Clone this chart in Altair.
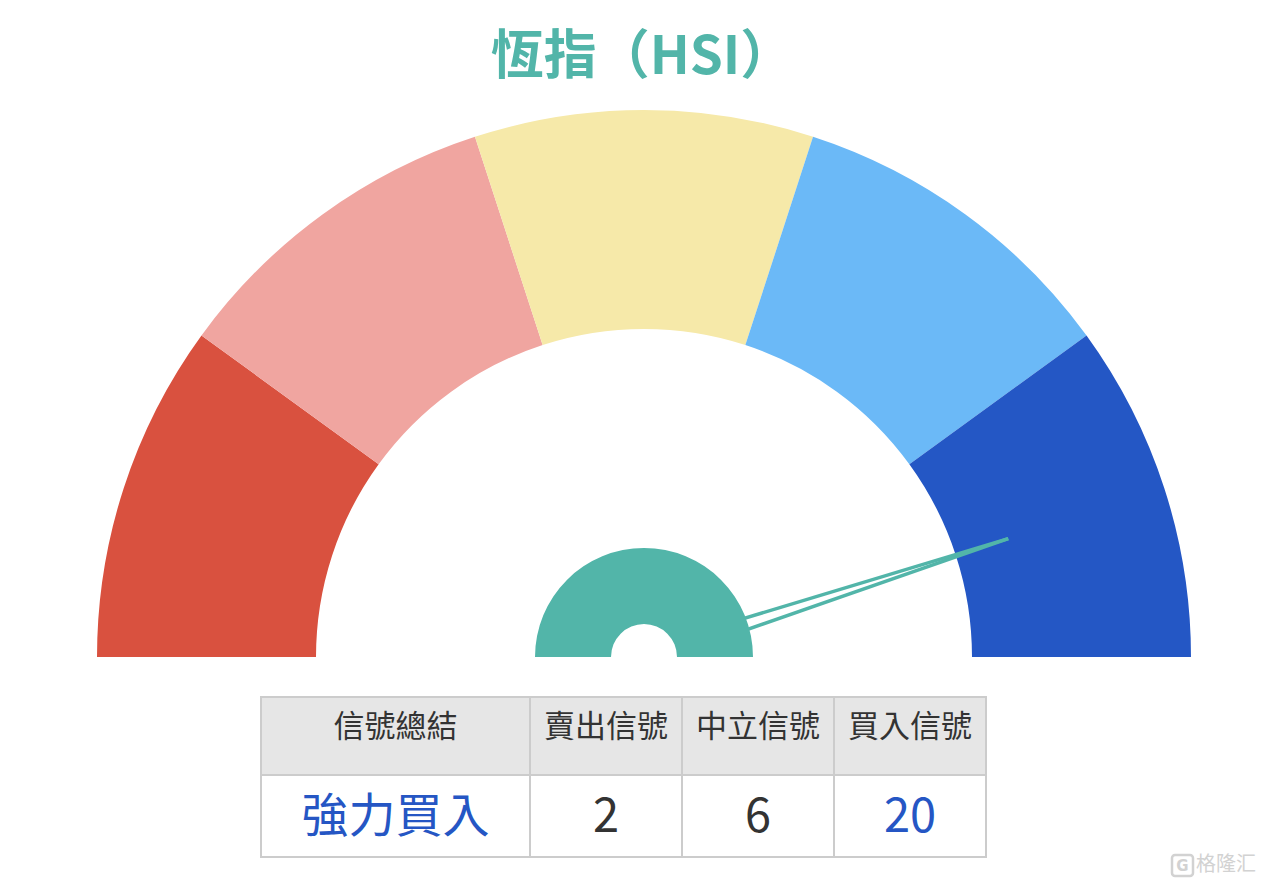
import altair as alt
import pandas as pd
import numpy as np

# ---------------- data ----------------
title_text = "恆指（HSI）"
zone_labels = ["強力賣出", "賣出", "中立", "買入", "強力買入"]
zone_start = [0, 20, 40, 60, 80]
zone_end = [20, 40, 60, 80, 100]
needle_value = 90
header_labels = ["信號總結", "賣出信號", "中立信號", "買入信號"]
row_values = ["強力買入", "2", "6", "20"]
watermark_text = "格隆汇"

# ---------------- style / layout ----------------
zone_colors = ["#d9513f", "#f0a5a0", "#f6e9a9", "#6bb9f7", "#2457c5"]
row_colors = ["#2556c4", "#333333", "#333333", "#2556c4"]
TEAL = "#52b5a9"
FONT = "Noto Sans CJK TC"
W, H = 1250, 870
CX, CY = 636, 649
R_OUT, R_IN = 547, 328
HUB_OUT, HUB_IN = 109, 33
NEEDLE_LEN = 383
NEEDLE_HALF = 8
NEEDLE_START = 70  # lines start inside the hub ring (hidden under it)
COL_EDGES = [253, 522, 674, 826, 978]
ROW_EDGES = [689, 767, 849]

xs = alt.Scale(domain=[0, W], nice=False, zero=False)
ys = alt.Scale(domain=[0, H], reverse=True, nice=False, zero=False)
theta_scale = alt.Scale(domain=[0, 100], range=[-np.pi / 2, np.pi / 2])

# gauge zones
zones = pd.DataFrame({"zone": zone_labels, "start": zone_start, "end": zone_end})
arcs = alt.Chart(zones).mark_arc(radius=R_OUT, radius2=R_IN, x=CX, y=CY).encode(
    theta=alt.Theta("start:Q", scale=theta_scale),
    theta2="end:Q",
    color=alt.Color("zone:N", scale=alt.Scale(domain=zone_labels, range=zone_colors), legend=None),
)

# needle: two edges of a thin triangle, from the hub out to the tip
a = np.pi * (1 - needle_value / 100)
tip = np.array([CX + NEEDLE_LEN * np.cos(a), CY - NEEDLE_LEN * np.sin(a)])
perp = np.array([np.sin(a), np.cos(a)])
center = np.array([CX, CY], dtype=float)
rows = []
t = NEEDLE_START / NEEDLE_LEN
for side, sgn in (("a", 1), ("b", -1)):
    base = center + sgn * NEEDLE_HALF * perp
    start = base + t * (tip - base)
    rows.append({"px": start[0], "py": start[1], "o": 0, "side": side})
    rows.append({"px": tip[0], "py": tip[1], "o": 1, "side": side})
needle_df = pd.DataFrame(rows)
needle = alt.Chart(needle_df).mark_line(color=TEAL, strokeWidth=3.5, strokeCap="butt").encode(
    x=alt.X("px:Q", scale=xs, axis=None),
    y=alt.Y("py:Q", scale=ys, axis=None),
    detail="side:N",
    order="o:Q",
)

# hub
hub_df = pd.DataFrame({"start": [0], "end": [100]})
hub = alt.Chart(hub_df).mark_arc(radius=HUB_OUT, radius2=HUB_IN, x=CX, y=CY, color=TEAL).encode(
    theta=alt.Theta("start:Q", scale=theta_scale),
    theta2="end:Q",
)

# title
title_df = pd.DataFrame({"t": [title_text], "px": [CX - 2], "py": [50]})
title = alt.Chart(title_df).mark_text(
    font=FONT, fontSize=53, fontWeight="bold", color=TEAL, baseline="middle", align="center"
).encode(x=alt.X("px:Q", scale=xs, axis=None), y=alt.Y("py:Q", scale=ys, axis=None), text="t:N")

# table
cells = []
for r, (labels, colors, fill, dy) in enumerate([
    (header_labels, ["#333333"] * 4, "#e6e6e6", -8),
    (row_values, row_colors, "#ffffff", 2),
]):
    for c, lab in enumerate(labels):
        cells.append({
            "x1": COL_EDGES[c], "x2": COL_EDGES[c + 1],
            "y1": ROW_EDGES[r], "y2": ROW_EDGES[r + 1],
            "xm": (COL_EDGES[c] + COL_EDGES[c + 1]) / 2,
            "ym": (ROW_EDGES[r] + ROW_EDGES[r + 1]) / 2 + dy,
            "label": lab, "fill": fill, "tc": colors[c], "row": r,
        })
cells_df = pd.DataFrame(cells)
rects = alt.Chart(cells_df).mark_rect(stroke="#cccccc", strokeWidth=2).encode(
    x=alt.X("x1:Q", scale=xs, axis=None), x2="x2:Q",
    y=alt.Y("y1:Q", scale=ys, axis=None), y2="y2:Q",
    color=alt.Color("fill:N", scale=None),
)
head_text = alt.Chart(cells_df[cells_df.row == 0]).mark_text(
    font=FONT, fontSize=31, baseline="middle", align="center"
).encode(
    x=alt.X("xm:Q", scale=xs, axis=None), y=alt.Y("ym:Q", scale=ys, axis=None),
    text="label:N", color=alt.Color("tc:N", scale=None),
)
val_text = alt.Chart(cells_df[cells_df.row == 1]).mark_text(
    font=FONT, fontSize=47, baseline="middle", align="center"
).encode(
    x=alt.X("xm:Q", scale=xs, axis=None), y=alt.Y("ym:Q", scale=ys, axis=None),
    text="label:N", color=alt.Color("tc:N", scale=None),
)

# watermark
wm_df = pd.DataFrame({"t": [watermark_text], "px": [1218], "py": [857]})
wm = alt.Chart(wm_df).mark_text(
    font=FONT, fontSize=20, color="#d2d2d2", baseline="middle", align="center"
).encode(x=alt.X("px:Q", scale=xs, axis=None), y=alt.Y("py:Q", scale=ys, axis=None), text="t:N")
wm_box_df = pd.DataFrame({"x1": [1164], "x2": [1185], "y1": [847], "y2": [868]})
wm_box = alt.Chart(wm_box_df).mark_rect(
    fill="white", stroke="#d2d2d2", strokeWidth=2.5, cornerRadius=3
).encode(
    x=alt.X("x1:Q", scale=xs, axis=None), x2="x2:Q",
    y=alt.Y("y1:Q", scale=ys, axis=None), y2="y2:Q",
)
wm_g_df = pd.DataFrame({"t": ["G"], "px": [1174.5], "py": [858]})
wm_g = alt.Chart(wm_g_df).mark_text(
    font="DejaVu Sans", fontSize=15, fontWeight="bold", color="#d2d2d2", baseline="middle", align="center"
).encode(x=alt.X("px:Q", scale=xs, axis=None), y=alt.Y("py:Q", scale=ys, axis=None), text="t:N")

chart = alt.layer(
    arcs, needle, hub, title, rects, head_text, val_text, wm_box, wm_g, wm
).properties(
    width=W, height=H, padding=0,
    autosize=alt.AutoSizeParams(type="none"),
).configure_view(strokeWidth=0)

chart.save("out.html", embed_options={"renderer": "svg", "actions": False})
